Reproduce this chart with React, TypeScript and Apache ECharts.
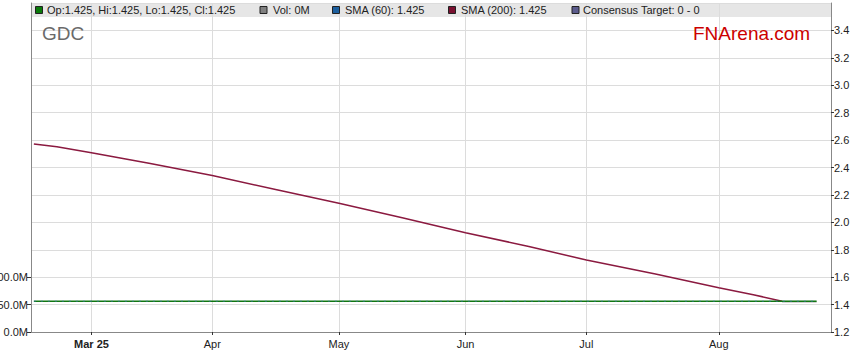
import React, { useEffect, useRef } from "react";
import * as echarts from "echarts";

// Trading-day categories (weekdays) shown on the x axis
const startDate = "2025-02-17";
const endDate = "2025-08-28";

// Month tick labels at the first trading day of each month
const monthTickDates = ["2025-03-03", "2025-04-01", "2025-05-01", "2025-06-02", "2025-07-01", "2025-08-01"];
const monthTickLabels = ["Mar 25", "Apr", "May", "Jun", "Jul", "Aug"];

// SMA (200)
const sma200Dates = [
  "2025-02-17", "2025-02-21", "2025-03-03", "2025-03-17", "2025-04-01", "2025-04-16",
  "2025-05-01", "2025-05-16", "2025-06-02", "2025-06-17", "2025-07-01", "2025-07-17",
  "2025-08-01", "2025-08-11", "2025-08-18",
];
const sma200Values = [
  2.572, 2.552, 2.508, 2.431, 2.341, 2.240,
  2.139, 2.034, 1.924, 1.824, 1.725, 1.623,
  1.523, 1.472, 1.425,
];

// Close price and SMA (60): flat
const closeDates = ["2025-02-17", "2025-08-26"];
const closeValues = [1.425, 1.425];
const sma60Dates = ["2025-02-17", "2025-08-26"];
const sma60Values = [1.425, 1.425];
const tailDates = ["2025-08-18", "2025-08-26"];
const tailValues = [1.421, 1.421];

// Volume axis tick values
const volumeTicks = [0, 50e6, 100e6];

const legendItems = [
  { color: "#0a7a0a", text: "Op:1.425, Hi:1.425, Lo:1.425, Cl:1.425", sx: 35.5, tx: 47 },
  { color: "#808080", text: "Vol: 0M", sx: 260, tx: 273 },
  { color: "#1d5f9e", text: "SMA (60): 1.425", sx: 332.5, tx: 345 },
  { color: "#7a1030", text: "SMA (200): 1.425", sx: 448.5, tx: 461 },
  { color: "#5b5b8c", text: "Consensus Target: 0 - 0", sx: 572, tx: 583 },
];

function buildWeekdays(a: string, b: string): string[] {
  const out: string[] = [];
  const d = new Date(a + "T00:00:00Z");
  const e = new Date(b + "T00:00:00Z");
  while (d.getTime() <= e.getTime()) {
    const wd = d.getUTCDay();
    if (wd !== 0 && wd !== 6) out.push(d.toISOString().slice(0, 10));
    d.setUTCDate(d.getUTCDate() + 1);
  }
  return out;
}

const zip = (xs: string[], ys: number[]) => xs.map((x, i) => [x, ys[i]]);

export default function App() {
  const ref = useRef<HTMLDivElement>(null);
  useEffect(() => {
    if (!ref.current) return;
    const chart = echarts.init(ref.current, null, { renderer: "svg" });
    const cats = buildWeekdays(startDate, endDate);
    const isMonth = (_i: number, v: string) => monthTickDates.indexOf(v) >= 0;
    const font = "Liberation Sans, Arial, sans-serif";

    const graphics: any[] = [
      { type: "rect", z: -5, shape: { x: 31, y: 3, width: 800, height: 14 }, style: { fill: "#e6e6e6" } },
    ];
    legendItems.forEach((it) => {
      graphics.push({
        type: "rect", z: 10,
        shape: { x: it.sx, y: 6.5, width: 7, height: 7 },
        style: { fill: it.color, stroke: "#222", lineWidth: 1 },
      });
      graphics.push({
        type: "text", z: 10, x: it.tx, y: 10,
        style: { text: it.text, fill: "#222", font: `11px ${font}`, textVerticalAlign: "middle" },
      });
    });
    graphics.push({
      type: "text", z: 10, x: 42, y: 33,
      style: { text: "GDC", fill: "#6a6a6a", font: `19px ${font}`, textVerticalAlign: "middle" },
    });
    graphics.push({
      type: "text", z: 10, x: 693, y: 33,
      style: { text: "FNArena.com", fill: "#cc0000", font: `19px ${font}`, textVerticalAlign: "middle" },
    });

    chart.setOption({
      animation: false,
      textStyle: { fontFamily: font },
      grid: { left: 31, right: 28, top: 3, bottom: 31, containLabel: false, outerBoundsMode: "none" },
      xAxis: {
        type: "category",
        data: cats,
        boundaryGap: true,
        axisLine: { lineStyle: { color: "#888", width: 1 } },
        axisTick: { show: true, interval: isMonth, alignWithLabel: true, length: 3, lineStyle: { color: "#333" } },
        axisLabel: {
          interval: isMonth,
          margin: 6,
          fontSize: 11,
          color: "#222",
          formatter: (v: string) => {
            const k = monthTickDates.indexOf(v);
            if (k < 0) return "";
            return k === 0 ? `{b|${monthTickLabels[k]}}` : monthTickLabels[k];
          },
          rich: { b: { fontWeight: "bold", fontSize: 11, color: "#222" } },
        },
        splitLine: { show: true, interval: isMonth, alignWithLabel: true, lineStyle: { color: "#dcdcdc", width: 1 } },
      },
      yAxis: [
        {
          type: "value",
          position: "left",
          min: 0,
          max: 600e6,
          axisLine: { show: true, lineStyle: { color: "#888" } },
          axisTick: { show: true, customValues: volumeTicks, length: 4, lineStyle: { color: "#333" } },
          axisLabel: {
            customValues: volumeTicks,
            margin: 3,
            fontSize: 11,
            color: "#222",
            formatter: (v: number) => (v / 1e6).toFixed(1) + "M",
          },
          splitLine: { show: false },
        },
        {
          type: "value",
          position: "right",
          min: 1.2,
          max: 3.6,
          interval: 0.2,
          axisLine: { show: true, lineStyle: { color: "#888" } },
          axisTick: { show: true, length: 3, lineStyle: { color: "#333" } },
          axisLabel: {
            margin: 3,
            fontSize: 11,
            color: "#222",
            showMaxLabel: false,
            formatter: (v: number) => v.toFixed(1),
          },
          splitLine: { show: true, lineStyle: { color: "#dcdcdc", width: 1 } },
        },
      ],
      graphic: graphics,
      series: [
        {
          name: "SMA (200) tail",
          type: "line",
          yAxisIndex: 1,
          data: zip(tailDates, tailValues),
          symbol: "none",
          lineStyle: { color: "#c4c4c4", width: 2 },
          z: 2,
        },
        {
          name: "SMA (200)",
          type: "line",
          yAxisIndex: 1,
          data: zip(sma200Dates, sma200Values),
          symbol: "none",
          lineStyle: { color: "#8b1a40", width: 1.5 },
          z: 3,
        },
        {
          name: "Close",
          type: "line",
          yAxisIndex: 1,
          data: zip(closeDates, closeValues),
          symbol: "none",
          lineStyle: { color: "#117711", width: 1.5 },
          z: 4,
        },
        {
          name: "SMA (60)",
          type: "line",
          yAxisIndex: 1,
          data: zip(sma60Dates, sma60Values),
          symbol: "none",
          lineStyle: { color: "#3b78c4", width: 1, type: [2, 5], opacity: 0.6 },
          z: 5,
        },
      ],
    });
    return () => chart.dispose();
  }, []);
  return <div ref={ref} style={{ position: "absolute", left: 0, top: 0, width: 859, height: 363 }} />;
}
